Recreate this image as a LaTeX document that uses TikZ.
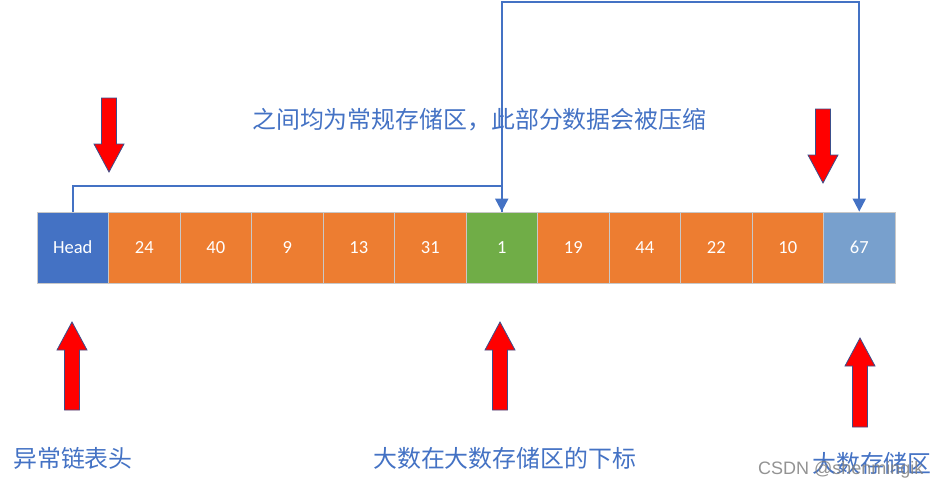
\documentclass[tikz,border=0pt]{standalone}
\usepackage{fontspec}
\setmainfont{Carlito}
\newfontfamily\cjk{Noto Sans CJK SC}
\newfontfamily\wmfont{Liberation Sans}
\usetikzlibrary{arrows.meta}
\definecolor{headblue}{HTML}{4472C4}
\definecolor{cellorange}{HTML}{ED7D31}
\definecolor{cellgreen}{HTML}{70AD47}
\definecolor{storeblue}{HTML}{78A0CD}
\definecolor{cellgray}{HTML}{C8C8C8}
\definecolor{arrowedge}{HTML}{3B4F8C}

% block arrows: x of tip, y of tip, length
\newcommand{\blockdown}[3]{%
  \draw[redarrow] (#1-7.5,#2-#3) -- (#1+7.5,#2-#3) -- (#1+7.5,#2-28) -- (#1+15,#2-28)
    -- (#1,#2) -- (#1-15,#2-28) -- (#1-7.5,#2-28) -- cycle;}
\newcommand{\blockup}[3]{%
  \draw[redarrow] (#1-7.5,#2+#3) -- (#1+7.5,#2+#3) -- (#1+7.5,#2+28) -- (#1+15,#2+28)
    -- (#1,#2) -- (#1-15,#2+28) -- (#1-7.5,#2+28) -- cycle;}

\begin{document}
\begin{tikzpicture}[x=1pt,y=-1pt,
  cell/.style={draw=cellgray,line width=0.8pt,text=white,minimum width=71.5pt,minimum height=71pt,
    inner sep=0pt,font=\fontsize{18.5}{20}\selectfont},
  note/.style={text=headblue,font=\cjk\fontsize{23.9}{28}\selectfont,inner sep=0pt,anchor=west},
  link/.style={headblue,line width=2pt,-{Triangle[width=13pt,length=13pt]}},
  redarrow/.style={fill=red,draw=arrowedge,line width=0.8pt,line join=miter}]
\useasboundingbox (0,0) rectangle (945,490);
% the array
\foreach \v/\col [count=\i from 0] in {Head/headblue,24/cellorange,40/cellorange,9/cellorange,
    13/cellorange,31/cellorange,1/cellgreen,19/cellorange,44/cellorange,22/cellorange,
    10/cellorange,67/storeblue}
  \node[cell,fill=\col] (c\i) at ({72.75+71.5*\i},247.5) {\v};
% links
\draw[link] (c0.north) -- ++(0,-26) -| (c6.north);
\draw[link] (c6.north) -- ++(0,-210) -| (c11.north);
% red pointers
\blockdown{109}{172}{74}
\blockdown{823}{183}{74}
\blockup{72}{322}{88}
\blockup{500}{322}{88}
\blockup{860}{338}{89}
% texts
\node[note] (zone) at (252,120) {之间均为常规存储区，此部分数据会被压缩};
\node[note] (headlbl) at (13,458) {异常链表头};
\node[note] (idxlbl) at (373,458) {大数在大数存储区的下标};
\node[note] (storelbl) at (812,463) {大数存储区};
\node[text=gray,opacity=0.85,font=\wmfont\fontsize{18}{20}\selectfont,inner sep=0pt,anchor=west] (wm)
  at (758,470) {CSDN @shenmingik};
\end{tikzpicture}
\end{document}
